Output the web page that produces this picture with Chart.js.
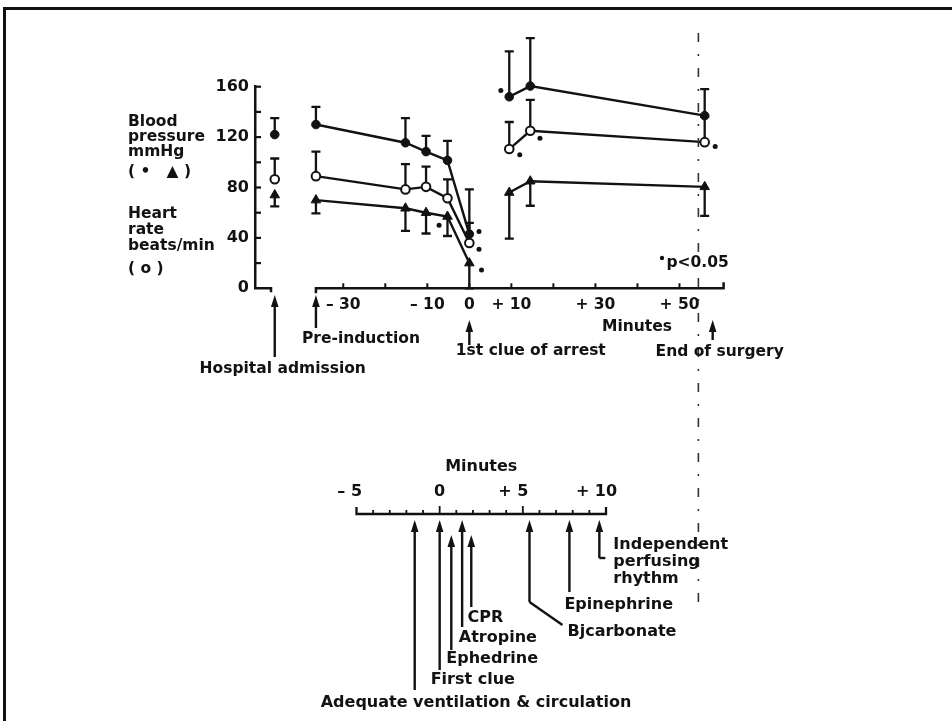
<!DOCTYPE html>
<html>
<head>
<meta charset="utf-8">
<script src="https://cdn.jsdelivr.net/npm/chart.js@4.4.1/dist/chart.umd.min.js"></script>
<style>
  html, body { margin: 0; padding: 0; background: #fff; }
  #wrap { position: relative; width: 952px; height: 721px; overflow: hidden; background: #fff; }
  #wrap canvas { position: absolute; left: 0; top: 0; }
</style>
</head>
<body>
<div id="wrap">
  <canvas id="vitals" width="952" height="721"></canvas>
  <canvas id="cpr" width="952" height="721"></canvas>
</div>
<script>
// ---- Vital signs around the arrest (minutes relative to first clue) ----
const timeMin        = [-46.3, -36.5, -15.2, -10.3, -5.2, 0, 9.5, 14.5, 56];
const bpCircle       = [122, 130, 115.5, 108.5, 101.5, 43, 152, 160.5, 137];
const bpCircleUpper  = [135, 144, 135, 121, 117, 78.5, 188, 198.5, 158];
const heartRate      = [86.5, 89, 78.5, 80.5, 71.5, 36, 110.5, 125, 116];
const heartRateUpper = [103, 108.5, 98.5, 96.5, 86.5, 52, 132, 149.5, 136];
const bpTriangle     = [74, 70, 63.5, 60, 57, 20, 76, 85, 80.5];
const bpTriangleLower= [65, 59.5, 45.5, 43.5, 41.5, 0, 39.5, 65.5, 57.5];
// which readings are joined by a line
const joinedRuns = [[0], [1, 2, 3, 4, 5], [6, 7, 8]];

// significance markers (p < 0.05)
const sigX = [-7.2, 2.3, 2.3, 2.9, 7.5, 12, 17.6, 16.8, 58.5];
const sigY = [50, 45, 31, 14.5, 157, 106, 166, 119, 112.5];

// axis ticks
const yTickValues = [0, 40, 80, 120, 160];
const xTickValues = [-30, -10, 0, 10, 30, 50];
const xTickText   = ['\u2013 30', '\u2013 10', '0', '+ 10', '+ 30', '+ 50'];

// events on the operative time axis
const mainEvents   = ['Hospital admission', 'Pre-induction', '1st clue of arrest', 'End of surgery'];
const mainEventMin = [-46.3, -36.5, 0, 57.9];

// resuscitation timeline (minutes)
const cprTickValues = [-5, 0, 5, 10];
const cprTickText   = ['\u2013 5', '0', '+ 5', '+ 10'];
const cprEvents   = ['Adequate ventilation & circulation', 'First clue', 'Ephedrine', 'Atropine',
                     'CPR', 'Bjcarbonate', 'Epinephrine', 'Independent\nperfusing\nrhythm'];
const cprEventMin = [-1.5, 0, 0.7, 1.35, 1.9, 5.4, 7.8, 9.6];

// ---- styling / layout ----
const INK = '#121212';
const FAMILY = '"DejaVu Sans", "Liberation Sans", sans-serif';
const bold = (sz) => `bold ${sz}px ${FAMILY}`;

const mainEventLayout = [
  { tip: 295, base: 357, align: 'center', dx: 8,     ty: 369 },
  { tip: 295, base: 328, align: 'left',   dx: -14,   ty: 339 },
  { tip: 320, base: 345, align: 'left',   dx: -13.5, ty: 351 },
  { tip: 320, base: 340, align: 'center', dx: 7,     ty: 352 }
];
const cprEventLayout = [
  { tip: 520, base: 690, dx: -94,  ty: 703 },
  { tip: 520, base: 670, dx: -9,   ty: 680 },
  { tip: 535, base: 650, dx: -5,   ty: 659 },
  { tip: 520, base: 627, dx: -3.3, ty: 638 },
  { tip: 535, base: 607, dx: -3.7, ty: 618 },
  { tip: 520, base: 602, bend: [33, 23], dx: 38, ty: 632 },
  { tip: 520, base: 592, dx: -5,   ty: 605 },
  { tip: 520, base: 558, hook: 6,  dx: 14,  ty: 545, lh: 17 }
];
const axisTitleLines = [
  { t: 'Blood', y: 122 }, { t: 'pressure', y: 137 }, { t: 'mmHg', y: 152 },
  { t: '( \u2022   \u25B2 )', y: 172 },
  { t: 'Heart', y: 214 }, { t: 'rate', y: 230 }, { t: 'beats/min', y: 246 },
  { t: '( o )', y: 269 }
];

function seriesPoints(values) {
  const pts = [];
  joinedRuns.forEach((run, r) => {
    run.forEach(i => pts.push({ x: timeMin[i], y: values[i] }));
    if (r < joinedRuns.length - 1) {
      const a = timeMin[run[run.length - 1]], b = timeMin[joinedRuns[r + 1][0]];
      pts.push({ x: (a + b) / 2, y: null });
    }
  });
  return pts;
}

function upArrow(ctx, x, tip, base) {
  ctx.beginPath();
  ctx.moveTo(x, tip + 8);
  ctx.lineTo(x, base);
  ctx.stroke();
  ctx.beginPath();
  ctx.moveTo(x, tip);
  ctx.lineTo(x - 3.8, tip + 12);
  ctx.lineTo(x + 3.8, tip + 12);
  ctx.closePath();
  ctx.fill();
}

function errorBar(ctx, x, yFrom, yTo) {
  ctx.beginPath();
  ctx.moveTo(x, yFrom);
  ctx.lineTo(x, yTo);
  ctx.moveTo(x - 4.5, yTo);
  ctx.lineTo(x + 4.5, yTo);
  ctx.stroke();
}

const vitalsDecor = {
  id: 'vitalsDecor',
  beforeDatasetsDraw(chart) {
    const { ctx, scales: { x, y } } = chart;
    ctx.save();
    ctx.strokeStyle = INK;
    ctx.lineWidth = 2.3;
    timeMin.forEach((t, i) => {
      const px = x.getPixelForValue(t);
      errorBar(ctx, px, y.getPixelForValue(bpCircle[i]), y.getPixelForValue(bpCircleUpper[i]));
      errorBar(ctx, px, y.getPixelForValue(heartRate[i]), y.getPixelForValue(heartRateUpper[i]));
      errorBar(ctx, px, y.getPixelForValue(bpTriangle[i]), y.getPixelForValue(bpTriangleLower[i]));
    });
    ctx.restore();
  },
  afterDraw(chart) {
    const { ctx, chartArea, scales: { x, y } } = chart;
    ctx.save();
    ctx.strokeStyle = INK;
    ctx.fillStyle = INK;
    ctx.lineCap = 'butt';

    // page frame (top and left rules)
    ctx.lineWidth = 3;
    ctx.beginPath();
    ctx.moveTo(952, 8.5); ctx.lineTo(4.5, 8.5); ctx.lineTo(4.5, 721);
    ctx.stroke();

    // y axis: inward ticks every 20 and foot at the origin
    const ax = chartArea.left;
    const y0 = y.getPixelForValue(0);
    ctx.lineWidth = 2.2;
    for (let v = 20; v <= 160; v += 20) {
      const py = y.getPixelForValue(v);
      ctx.beginPath(); ctx.moveTo(ax, py); ctx.lineTo(ax + 6, py); ctx.stroke();
    }
    ctx.lineWidth = 2.5;
    ctx.beginPath();
    ctx.moveTo(ax - 1, y0); ctx.lineTo(ax + 16, y0); ctx.lineTo(ax + 16, y0 + 4);
    ctx.stroke();

    // broken time axis from pre-induction to +60
    const xs = x.getPixelForValue(-36.5), xe = x.getPixelForValue(60.5);
    ctx.beginPath();
    ctx.moveTo(xs, y0 + 5); ctx.lineTo(xs, y0); ctx.lineTo(xe, y0); ctx.lineTo(xe, y0 - 6);
    ctx.stroke();
    ctx.lineWidth = 2;
    for (let m = -30; m <= 50; m += 10) {
      const px = x.getPixelForValue(m);
      ctx.beginPath(); ctx.moveTo(px, y0); ctx.lineTo(px, y0 - 5); ctx.stroke();
    }

    // faint dash-dot rule running down the page
    ctx.save();
    ctx.lineWidth = 1.6;
    ctx.strokeStyle = '#333';
    ctx.setLineDash([9, 12, 2, 12]);
    const dx = x.getPixelForValue(54.5);
    ctx.beginPath(); ctx.moveTo(dx, 33); ctx.lineTo(dx, 612); ctx.stroke();
    ctx.restore();

    // event arrows
    ctx.lineWidth = 2.4;
    ctx.font = bold(15.5);
    ctx.textBaseline = 'middle';
    mainEvents.forEach((name, i) => {
      const L = mainEventLayout[i];
      const px = x.getPixelForValue(mainEventMin[i]);
      upArrow(ctx, px, L.tip, L.base);
      ctx.textAlign = L.align;
      ctx.fillText(name, px + L.dx, L.ty);
    });

    // axis captions
    ctx.textAlign = 'center';
    ctx.font = bold(15.5);
    ctx.fillText('Minutes', 637, 327);

    ctx.textAlign = 'left';
    ctx.font = bold(15.5);
    axisTitleLines.forEach(l => ctx.fillText(l.t, 128, l.y));

    // significance footnote
    ctx.beginPath(); ctx.arc(662, 258, 2.2, 0, Math.PI * 2); ctx.fill();
    ctx.font = bold(15.5);
    ctx.fillText('p<0.05', 666.5, 263);
    ctx.restore();
  }
};

new Chart(document.getElementById('vitals'), {
  type: 'line',
  data: {
    datasets: [
      {
        label: 'Blood pressure (\u25B2)',
        data: seriesPoints(bpTriangle),
        borderColor: INK, borderWidth: 2.4, tension: 0, spanGaps: false, clip: false,
        pointStyle: 'triangle', pointRadius: 5.5,
        pointBackgroundColor: INK, pointBorderColor: INK, pointBorderWidth: 1
      },
      {
        label: 'Heart rate (o)',
        data: seriesPoints(heartRate),
        borderColor: INK, borderWidth: 2.4, tension: 0, spanGaps: false, clip: false,
        pointStyle: 'circle', pointRadius: 4.3,
        pointBackgroundColor: '#fff', pointBorderColor: INK, pointBorderWidth: 2
      },
      {
        label: 'Blood pressure (\u25CF)',
        data: seriesPoints(bpCircle),
        borderColor: INK, borderWidth: 2.4, tension: 0, spanGaps: false, clip: false,
        pointStyle: 'circle', pointRadius: 4.3,
        pointBackgroundColor: INK, pointBorderColor: INK, pointBorderWidth: 1
      },
      {
        type: 'scatter',
        label: 'p < 0.05',
        data: sigX.map((v, i) => ({ x: v, y: sigY[i] })),
        showLine: false, clip: false,
        pointStyle: 'circle', pointRadius: 2.5,
        pointBackgroundColor: INK, pointBorderColor: INK, pointBorderWidth: 0
      }
    ]
  },
  options: {
    responsive: false,
    animation: false,
    events: [],
    layout: { padding: { left: 195, right: 228.4, top: 86.7, bottom: 392.7 } },
    plugins: { legend: { display: false }, tooltip: { enabled: false } },
    scales: {
      x: {
        type: 'linear', min: -51, max: 60.5,
        grid: { display: false, drawTicks: false, tickLength: 0 },
        border: { display: false },
        afterBuildTicks: (s) => { s.ticks = xTickValues.map(v => ({ value: v })); },
        afterFit: (s) => { s.height = 40; },
        ticks: {
          autoSkip: false, maxRotation: 0, padding: 7, color: INK,
          font: { family: FAMILY, size: 15.5, weight: 'bold' },
          callback: (v) => xTickText[xTickValues.indexOf(v)]
        }
      },
      y: {
        min: 0, max: 160,
        grid: { display: false, drawTicks: false, tickLength: 0 },
        border: { display: true, width: 2.5, color: INK },
        afterBuildTicks: (s) => { s.ticks = yTickValues.map(v => ({ value: v })); },
        afterFit: (s) => { s.width = 60; },
        ticks: {
          padding: 6, color: INK,
          font: { family: FAMILY, size: 16, weight: 'bold' }
        }
      }
    }
  },
  plugins: [vitalsDecor]
});

// ---- Resuscitation timeline ----
const cprDecor = {
  id: 'cprDecor',
  afterDraw(chart) {
    const { ctx, chartArea, scales: { x } } = chart;
    const y0 = chartArea.top;
    ctx.save();
    ctx.strokeStyle = INK;
    ctx.fillStyle = INK;
    ctx.lineWidth = 2.3;
    const xa = x.getPixelForValue(-5), xb = x.getPixelForValue(10);
    ctx.beginPath();
    ctx.moveTo(xa, y0 - 7); ctx.lineTo(xa, y0); ctx.lineTo(xb, y0); ctx.lineTo(xb, y0 - 7);
    ctx.stroke();
    ctx.lineWidth = 1.8;
    for (let m = -4; m <= 9; m++) {
      const px = x.getPixelForValue(m);
      const len = m % 5 === 0 ? 8 : 4;
      ctx.beginPath(); ctx.moveTo(px, y0); ctx.lineTo(px, y0 - len); ctx.stroke();
    }

    // tick labels: the number sits over its tick, the sign to its left
    ctx.font = bold(16);
    ctx.textBaseline = 'middle';
    ctx.textAlign = 'left';
    cprTickValues.forEach((v, i) => {
      const txt = cprTickText[i];
      const num = txt.split(' ').pop();
      const full = ctx.measureText(txt).width, nw = ctx.measureText(num).width;
      ctx.fillText(txt, x.getPixelForValue(v) + nw / 2 - full, 492);
    });
    ctx.textAlign = 'center';
    ctx.fillText('Minutes', (xa + xb) / 2, 467);

    // event arrows with labels
    ctx.lineWidth = 2.4;
    ctx.textAlign = 'left';
    cprEvents.forEach((name, i) => {
      const L = cprEventLayout[i];
      const px = x.getPixelForValue(cprEventMin[i]);
      upArrow(ctx, px, L.tip, L.base);
      if (L.bend) {
        ctx.beginPath(); ctx.moveTo(px, L.base); ctx.lineTo(px + L.bend[0], L.base + L.bend[1]); ctx.stroke();
      }
      if (L.hook) {
        ctx.beginPath(); ctx.moveTo(px, L.base); ctx.lineTo(px + L.hook, L.base); ctx.stroke();
      }
      name.split('\n').forEach((line, k) => ctx.fillText(line, px + L.dx, L.ty + k * (L.lh || 0)));
    });
    ctx.restore();
  }
};

new Chart(document.getElementById('cpr'), {
  type: 'scatter',
  data: {
    datasets: [{
      label: 'Resuscitation events',
      data: cprEventMin.map(m => ({ x: m, y: 0 })),
      pointRadius: 0
    }]
  },
  options: {
    responsive: false,
    animation: false,
    events: [],
    layout: { padding: { left: 356.5, right: 346, top: 474, bottom: 21 } },
    plugins: { legend: { display: false }, tooltip: { enabled: false } },
    scales: {
      x: {
        type: 'linear', position: 'top', min: -5, max: 10,
        grid: { display: false, drawTicks: false, tickLength: 0 },
        border: { display: false },
        afterBuildTicks: (s) => { s.ticks = cprTickValues.map(v => ({ value: v })); },
        afterFit: (s) => { s.height = 40; },
        ticks: { display: false }
      },
      y: { display: false, min: 0, max: 1 }
    }
  },
  plugins: [cprDecor]
});
</script>
</body>
</html>
